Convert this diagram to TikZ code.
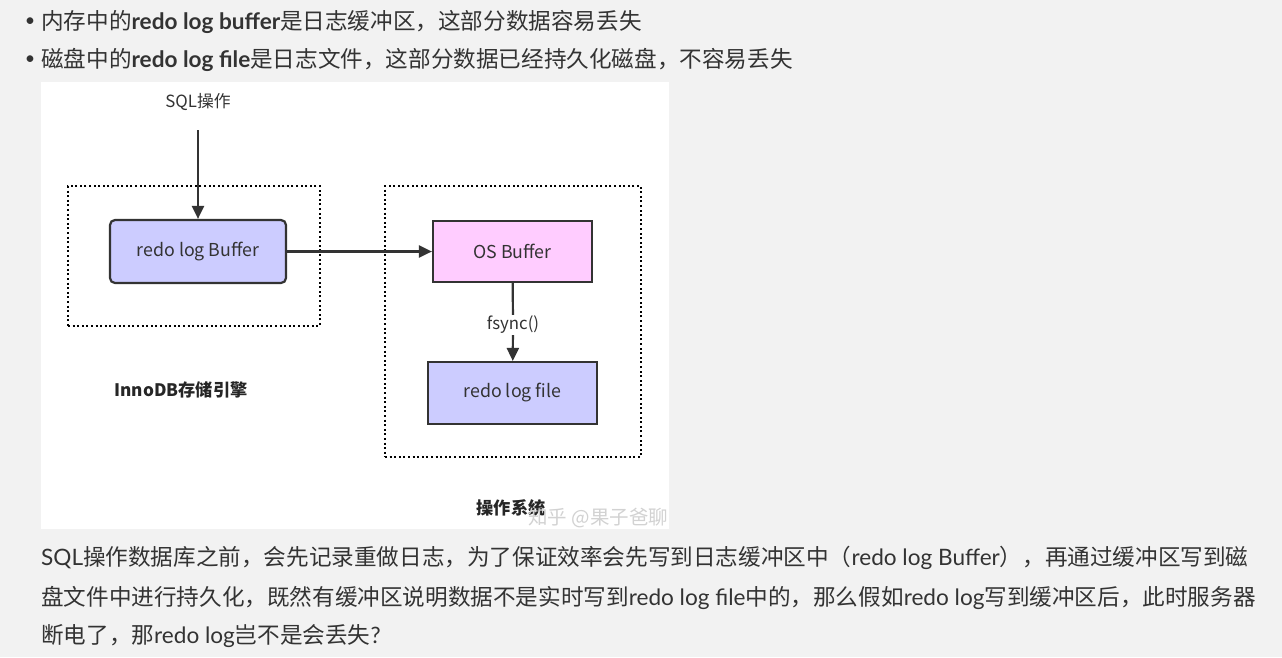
\documentclass[tikz,border=0pt]{standalone}
\usepackage{fontspec}
\setmainfont{Noto Sans CJK SC}
\newfontfamily\latofont{Lato}
\usetikzlibrary{arrows.meta,positioning}
\definecolor{PageBg}{HTML}{F2F2F2}
\definecolor{BodyInk}{HTML}{333333}
\definecolor{BoxLav}{HTML}{CCCCFF}
\definecolor{BoxPink}{HTML}{FFCCFF}
\definecolor{BoxRule}{HTML}{333333}
\definecolor{MarkGray}{HTML}{D2D2D2}
\newcommand{\en}[1]{{\latofont #1}}

\begin{document}
\begin{tikzpicture}[x=1pt, y=-1pt,
  bodyline/.style={anchor=west, inner sep=0pt, text=BodyInk,
                   font=\fontsize{22.6}{27}\selectfont},
  dotmark/.style={inner sep=0pt, text=BodyInk, font=\fontsize{18}{22}\selectfont},
  logbox/.style={draw=BoxRule, line width=2.2pt, fill=BoxLav, text=BodyInk,
                 inner sep=0pt, font=\fontsize{17.8}{21}\selectfont},
  grpframe/.style={draw=black, line width=2.2pt, dash pattern=on 2pt off 2.6pt,
                   inner sep=0pt},
  tag/.style={inner sep=1pt, text=BodyInk, font=\fontsize{16.8}{20}\selectfont},
  grptag/.style={inner sep=0pt, text=black!85, font=\fontsize{17.2}{21}\selectfont\bfseries},
  flow/.style={draw=BoxRule, line width=2.2pt, -{Triangle[length=13pt,width=12pt]}}]
  % page and picture area
  \fill[PageBg] (0,0) rectangle (1282,657);
  \fill[white] (41,82) rectangle (669,529);

  % bullet list
  \node[dotmark] (dot1) at (30,22) {\en{•}};
  \node[bodyline] (item1) at (41,22)
    {内存中的\en{\bfseries redo log buffer}是日志缓冲区，这部分数据容易丢失};
  \node[dotmark] (dot2) at (30,60) {\en{•}};
  \node[bodyline] (item2) at (41,60)
    {磁盘中的\en{\bfseries redo log file}是日志文件，这部分数据已经持久化磁盘，不容易丢失};

  % diagram
  \node[grpframe, minimum width=252, minimum height=140] (innoframe) at (194,256) {};
  \node[grpframe, minimum width=256, minimum height=271] (osframe) at (513,321.5) {};

  \node[tag] (sql) at (198,102) {SQL操作};
  \coordinate (sqltail) at (198,130);
  \node[logbox, rounded corners=5pt, minimum width=176, minimum height=63]
    (rlbuf) at (198,251.5) {redo log Buffer};
  \node[logbox, fill=BoxPink, minimum width=159, minimum height=61]
    (osbuf) at (512.5,251.5) {OS Buffer};
  \node[tag] (fsync) at (513,325) {fsync()};
  \node[logbox, minimum width=169, minimum height=62]
    (rlfile) at (512.5,393) {redo log file};

  \draw[flow] (sqltail) -- (rlbuf);
  \draw[flow] (rlbuf) -- (osbuf);
  \draw[draw=BoxRule, line width=2.2pt] (osbuf) -- (fsync);
  \draw[flow] (fsync) -- (rlfile);

  \node[grptag] (innotag) at (181,390) {InnoDB存储引擎};
  \node[grptag] (ostag) at (511,508) {操作系统};
  \begin{scope}
    \clip (41,82) rectangle (669,529);
    \node[anchor=west, inner sep=0pt, text=MarkGray, font=\fontsize{19.5}{22}\selectfont]
      (mark) at (528,518) {知乎 @果子爸聊};
  \end{scope}

  % paragraph
  \node[bodyline] (para1) at (41,558)
    {\en{SQL}操作数据库之前，会先记录重做日志，为了保证效率会先写到日志缓冲区中（\en{redo log Buffer}），再通过缓冲区写到磁};
  \node[bodyline] (para2) at (41,598)
    {盘文件中进行持久化，既然有缓冲区说明数据不是实时写到\en{redo log file}中的，那么假如\en{redo log}写到缓冲区后，此时服务器};
  \node[bodyline] (para3) at (41,636)
    {断电了，那\en{redo log}岂不是会丢失\en{?}};
\end{tikzpicture}
\end{document}
